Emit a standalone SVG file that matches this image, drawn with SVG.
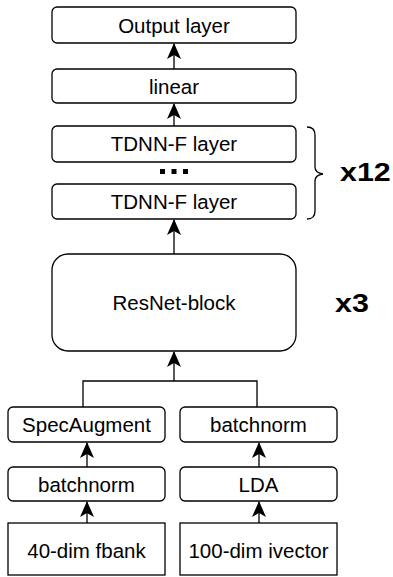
<svg xmlns="http://www.w3.org/2000/svg" width="393" height="577" viewBox="0 0 393 577">
  <defs>
    <marker id="arrow" viewBox="0 0 16 14" refX="15" refY="7" markerWidth="16" markerHeight="14" markerUnits="userSpaceOnUse" orient="auto">
      <path d="M0,0 L16,7 L0,14 L4,7 Z" fill="#000"/>
    </marker>
  </defs>
  <style>
    .box { fill: #fff; stroke: #000; stroke-width: 1.3; }
    .lbl { font-family: "Liberation Sans", Arial, sans-serif; font-size: 20.5px; fill: #000; text-anchor: middle; }
    .mult { font-family: "Liberation Sans", Arial, sans-serif; font-size: 26px; font-weight: bold; fill: #000; }
    .wire { fill: none; stroke: #000; stroke-width: 1.3; }
    .arr { fill: none; stroke: #000; stroke-width: 1.3; marker-end: url(#arrow); }
  </style>
  <rect width="393" height="577" fill="#fff"/>

  <g id="connectors">
    <line class="arr" x1="174" y1="69" x2="174" y2="44"/>
    <line class="arr" x1="174" y1="126" x2="174" y2="104"/>
    <line class="arr" x1="174" y1="254" x2="174" y2="220"/>
    <polyline class="wire" points="83,407 83,381 257,381 257,407"/>
    <line class="arr" x1="174" y1="381" x2="174" y2="352"/>
    <line class="arr" x1="87" y1="467" x2="87" y2="443"/>
    <line class="arr" x1="87" y1="523" x2="87" y2="502"/>
    <line class="arr" x1="259" y1="467" x2="259" y2="443"/>
    <line class="arr" x1="259" y1="523" x2="259" y2="502"/>
  </g>

  <g id="output-layer">
    <rect class="box" x="52" y="7" width="244" height="36" rx="5"/>
    <text class="lbl" x="174" y="33">Output layer</text>
  </g>
  <g id="linear">
    <rect class="box" x="52" y="69" width="244" height="34" rx="5"/>
    <text class="lbl" x="174" y="94">linear</text>
  </g>
  <g id="tdnn-top">
    <rect class="box" x="52" y="126" width="244" height="36" rx="5"/>
    <text class="lbl" x="174" y="151">TDNN-F layer</text>
  </g>
  <g id="ellipsis">
    <rect x="160" y="169" width="5" height="5" fill="#000"/>
    <rect x="171.5" y="169" width="5" height="5" fill="#000"/>
    <rect x="183" y="169" width="5" height="5" fill="#000"/>
  </g>
  <g id="tdnn-bottom">
    <rect class="box" x="52" y="184" width="244" height="35" rx="5"/>
    <text class="lbl" x="174" y="209">TDNN-F layer</text>
  </g>
  <g id="repeat-x12">
    <path class="wire" d="M307,127 Q315,127 315,135 L315,167 Q315,173 323,174 Q315,175 315,181 L315,211 Q315,219 307,219"/>
    <text class="mult" transform="translate(340,181) scale(1.17,1)">x12</text>
  </g>
  <g id="resnet-block">
    <rect class="box" x="52" y="254" width="244" height="97" rx="16"/>
    <text class="lbl" x="174" y="310">ResNet-block</text>
  </g>
  <g id="repeat-x3">
    <text class="mult" transform="translate(335,312) scale(1.17,1)">x3</text>
  </g>
  <g id="specaugment">
    <rect class="box" x="8" y="407" width="157" height="35" rx="5"/>
    <text class="lbl" x="86.5" y="432">SpecAugment</text>
  </g>
  <g id="batchnorm-ivector">
    <rect class="box" x="180" y="407" width="157" height="35" rx="5"/>
    <text class="lbl" x="258.5" y="432">batchnorm</text>
  </g>
  <g id="batchnorm-fbank">
    <rect class="box" x="8" y="467" width="157" height="34" rx="5"/>
    <text class="lbl" x="86.5" y="492">batchnorm</text>
  </g>
  <g id="lda">
    <rect class="box" x="180" y="467" width="157" height="34" rx="5"/>
    <text class="lbl" x="258.5" y="492">LDA</text>
  </g>
  <g id="fbank">
    <rect class="box" x="8" y="523" width="157" height="52"/>
    <text class="lbl" x="86.5" y="558">40-dim fbank</text>
  </g>
  <g id="ivector">
    <rect class="box" x="180" y="523" width="157" height="52"/>
    <text class="lbl" x="258.5" y="558">100-dim ivector</text>
  </g>
</svg>
